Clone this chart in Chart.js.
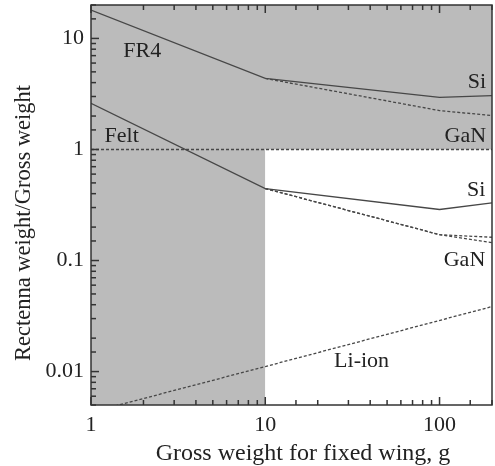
<!DOCTYPE html>
<html>
<head>
<meta charset="utf-8">
<script src="https://cdn.jsdelivr.net/npm/chart.js@4.4.1/dist/chart.umd.min.js"></script>
<style>
  html, body { margin: 0; padding: 0; background: #fff; }
  #wrap { width: 495px; height: 466px; }
</style>
</head>
<body>
<div id="wrap"><canvas id="myChart"></canvas></div>
<script>
// axis ranges and labelled decades
const xRange = [1, 200];
const yRange = [0.005, 20];
const xTickLabels = [1, 10, 100];
const yTickLabels = [0.01, 0.1, 1, 10];
const xTitle = 'Gross weight for fixed wing, g';
const yTitle = 'Rectenna weight/Gross weight';

// gross weight (g) and weight ratio for each curve
const fr4SiX = [1, 10, 100, 200];
const fr4SiY = [18, 4.36, 2.94, 3.06];
const fr4GanX = [10, 100, 200];
const fr4GanY = [4.36, 2.24, 2.02];
const feltSiX = [1, 10, 100, 200];
const feltSiY = [2.6, 0.445, 0.288, 0.33];
const feltGanX = [10, 100, 200];
const feltGanY = [0.445, 0.171, 0.162];
const feltGan2Y = [0.445, 0.171, 0.145];
const liIonX = [1, 10, 200];
const liIonY = [0.0043, 0.0111, 0.0385];
const unityX = [1, 200];
const unityY = [1, 1];

// shaded zones: everything left of 10 g, everything above ratio 1
const shadeLeftX = [1, 10];
const shadeTopX = [1, 200];
const shadeLevel = 1;

// curve labels, placed in data coordinates
const labelText = ['FR4', 'Felt', 'Si', 'GaN', 'Si', 'GaN', 'Li-ion'];
const labelX = [1.97, 1.5, 185, 185, 183, 183, 35.7];
const labelY = [7.6, 1.33, 4.0, 1.31, 0.43, 0.1, 0.0123];
const labelAlign = ['center', 'center', 'right', 'right', 'right', 'right', 'center'];

const pts = (xs, ys) => xs.map((x, i) => ({ x, y: ys[i] }));

const LINE = '#474747';
const GRAY = '#bbbbbb';
const TEXT = '#222';
const FONT = '"Liberation Serif", "Times New Roman", serif';

function curve(xs, ys, dashed) {
    return {
        data: pts(xs, ys),
        borderColor: LINE,
        borderWidth: 1.3,
        borderDash: dashed ? [3, 2] : [],
        pointRadius: 0,
        fill: false,
        tension: 0,
        order: 1
    };
}

const isDecade = v => Math.abs(Math.log10(v) - Math.round(Math.log10(v))) < 1e-6;

// inward tick marks, frame, axis titles and curve labels
const decorations = {
    id: 'decorations',
    afterDatasetsDraw(chart) {
        const { ctx, chartArea: a, scales: { x, y } } = chart;
        ctx.save();
        ctx.strokeStyle = '#333';
        ctx.lineWidth = 1.5;
        x.ticks.forEach(t => {
            if (t.value < xRange[0] || t.value > xRange[1]) return;
            const px = x.getPixelForValue(t.value);
            const len = isDecade(t.value) ? 8 : 5;
            ctx.beginPath();
            ctx.moveTo(px, a.bottom); ctx.lineTo(px, a.bottom - len);
            ctx.moveTo(px, a.top); ctx.lineTo(px, a.top + len);
            ctx.stroke();
        });
        y.ticks.forEach(t => {
            if (t.value < yRange[0] || t.value > yRange[1]) return;
            const py = y.getPixelForValue(t.value);
            const len = isDecade(t.value) ? 8 : 5;
            ctx.beginPath();
            ctx.moveTo(a.left, py); ctx.lineTo(a.left + len, py);
            ctx.stroke();
        });
        ctx.strokeRect(a.left, a.top, a.right - a.left, a.bottom - a.top);

        ctx.fillStyle = TEXT;
        ctx.font = '22px ' + FONT;
        ctx.textBaseline = 'middle';
        labelText.forEach((txt, i) => {
            ctx.textAlign = labelAlign[i];
            ctx.fillText(txt, x.getPixelForValue(labelX[i]), y.getPixelForValue(labelY[i]));
        });

        // axis titles sit a little off-centre from the plot box
        ctx.textAlign = 'center';
        ctx.textBaseline = 'alphabetic';
        ctx.font = '24px ' + FONT;
        ctx.fillText(xTitle, a.left + 212, chart.height - 6);
        ctx.save();
        ctx.translate(30, a.top + 218);
        ctx.rotate(-Math.PI / 2);
        ctx.font = '22.5px ' + FONT;
        ctx.fillText(yTitle, 0, 0);
        ctx.restore();
        ctx.restore();
    }
};

new Chart(document.getElementById('myChart'), {
    type: 'line',
    data: {
        datasets: [
            curve(fr4SiX, fr4SiY, false),
            curve(fr4GanX, fr4GanY, true),
            curve(feltSiX, feltSiY, false),
            curve(feltGanX, feltGanY, true),
            curve(feltGanX, feltGan2Y, true),
            curve(liIonX, liIonY, true),
            curve(unityX, unityY, true),
            {
                data: pts(shadeLeftX, shadeLeftX.map(() => yRange[1])),
                borderWidth: 0,
                pointRadius: 0,
                backgroundColor: GRAY,
                fill: 'start',
                order: 10
            },
            {
                data: pts(shadeTopX, shadeTopX.map(() => yRange[1])),
                borderWidth: 0,
                pointRadius: 0,
                backgroundColor: GRAY,
                fill: { value: shadeLevel },
                order: 10
            }
        ]
    },
    options: {
        responsive: true,
        maintainAspectRatio: false,
        animation: false,
        layout: { padding: { top: 5, right: 3, left: 0, bottom: 0 } },
        plugins: {
            legend: { display: false },
            tooltip: { enabled: false }
        },
        scales: {
            x: {
                type: 'logarithmic',
                min: xRange[0],
                max: xRange[1],
                grid: { display: false, drawTicks: false },
                border: { display: false },
                afterFit: s => {
                    s.height = 61;
                    s.paddingLeft = 0;
                    s.paddingRight = 0;
                },
                ticks: {
                    autoSkip: false,
                    maxRotation: 0,
                    padding: 7,
                    color: TEXT,
                    font: { family: FONT, size: 22 },
                    callback: v => xTickLabels.includes(v) ? String(v) : ''
                }
            },
            y: {
                type: 'logarithmic',
                min: yRange[0],
                max: yRange[1],
                grid: { display: false, drawTicks: false },
                border: { display: false },
                afterFit: s => {
                    s.width = 91;
                    s.paddingTop = 0;
                    s.paddingBottom = 0;
                },
                ticks: {
                    autoSkip: false,
                    padding: 7,
                    color: TEXT,
                    font: { family: FONT, size: 22 },
                    callback: v => yTickLabels.includes(v) ? String(v) : ''
                }
            }
        }
    },
    plugins: [decorations]
});
</script>
</body>
</html>
